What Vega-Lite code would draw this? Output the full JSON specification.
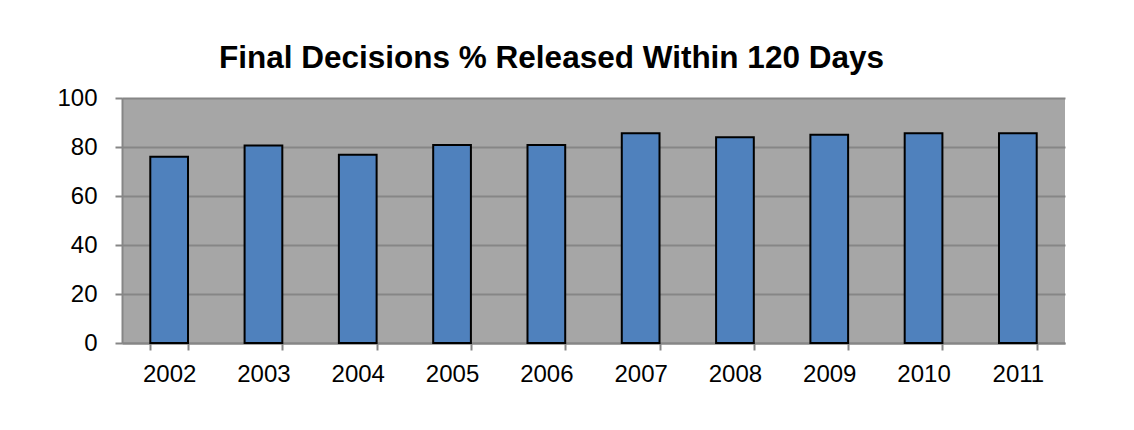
{
  "$schema": "https://vega.github.io/schema/vega-lite/v6.json",
  "width": 943,
  "height": 245,
  "autosize": {"type": "none"},
  "padding": {"left": 122, "top": 98, "right": 69, "bottom": 87},
  "background": "white",
  "title": {
    "text": "Final Decisions % Released Within 120 Days",
    "font": "Liberation Sans",
    "fontSize": 31.5,
    "fontWeight": "bold",
    "color": "black",
    "anchor": "middle",
    "baseline": "alphabetic",
    "offset": -13,
    "dx": -42
  },
  "config": {
    "view": {"fill": "#A6A6A6", "stroke": null},
    "font": "Liberation Sans"
  },
  "data": {
    "values": [
      {"year": "2002", "pct": 76},
      {"year": "2003", "pct": 80.6},
      {"year": "2004", "pct": 76.8},
      {"year": "2005", "pct": 80.8},
      {"year": "2006", "pct": 80.8},
      {"year": "2007", "pct": 85.6},
      {"year": "2008", "pct": 84},
      {"year": "2009", "pct": 85},
      {"year": "2010", "pct": 85.6},
      {"year": "2011", "pct": 85.6}
    ]
  },
  "mark": {"type": "bar", "fill": "#4F81BD", "stroke": "black", "strokeWidth": 2},
  "encoding": {
    "x": {
      "field": "year",
      "type": "ordinal",
      "scale": {"paddingInner": 0.6, "paddingOuter": 0.3},
      "axis": {
        "title": null,
        "labelAngle": 0,
        "labelFontSize": 24,
        "labelColor": "black",
        "labelPadding": 12,
        "tickBand": "extent",
        "tickSize": 7,
        "tickColor": "#868686",
        "tickWidth": 2,
        "domainColor": "#868686",
        "domainWidth": 2,
        "grid": false
      }
    },
    "y": {
      "field": "pct",
      "type": "quantitative",
      "scale": {"domain": [0, 100], "nice": false},
      "axis": {
        "title": null,
        "values": [0, 20, 40, 60, 80, 100],
        "labelFontSize": 24,
        "labelColor": "black",
        "labelPadding": 18,
        "tickSize": 7,
        "tickColor": "#868686",
        "tickWidth": 2,
        "domainColor": "#868686",
        "domainWidth": 2,
        "grid": true,
        "gridColor": "#868686",
        "gridWidth": 2
      }
    }
  }
}
